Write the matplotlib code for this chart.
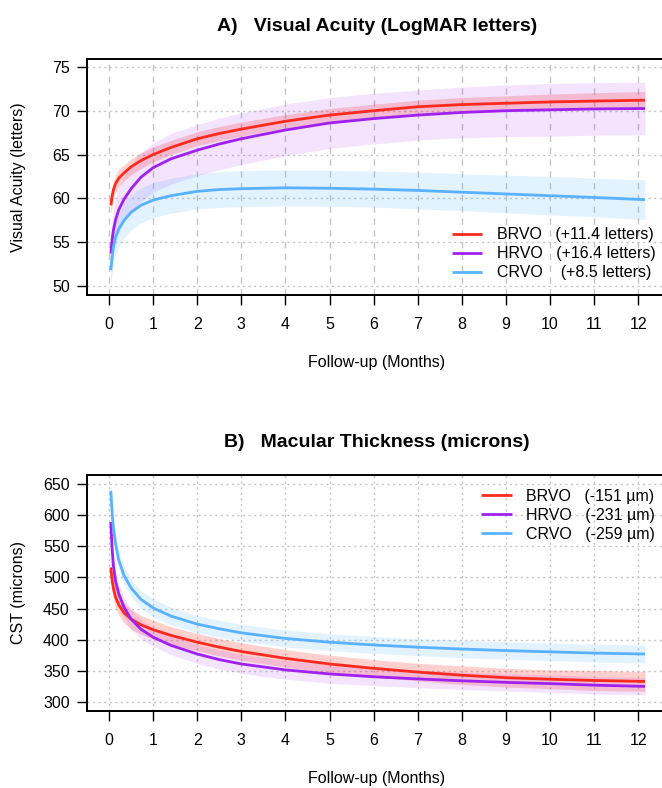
import numpy as np
import matplotlib
matplotlib.use('Agg')
import matplotlib.pyplot as plt

plt.rcParams['font.family'] = ['Liberation Sans', 'DejaVu Sans']

# follow-up months
months = [0.04, 0.07, 0.1, 0.15, 0.22, 0.34, 0.5, 0.72, 1, 1.4, 2, 2.5, 3, 4, 5, 6, 7, 8, 9, 10, 11, 12.15]

# A) visual acuity (letters): fitted mean and CI half width
va_brvo = [59.2, 60.3, 61.0, 61.7, 62.3, 62.9, 63.6, 64.3, 65.0, 65.8, 66.8, 67.4, 67.9, 68.8, 69.5, 70.0, 70.45, 70.7, 70.85, 71.0, 71.1, 71.2]
va_brvo_ci = [1.1, 1.1, 1.0, 1.0, 1.0, 0.9, 0.9, 0.9, 0.85, 0.8, 0.8, 0.8, 0.8, 0.75, 0.75, 0.75, 0.75, 0.8, 0.85, 0.9, 0.95, 1.0]
va_hrvo = [53.7, 55.3, 56.4, 57.6, 58.7, 59.9, 61.1, 62.4, 63.5, 64.5, 65.5, 66.2, 66.8, 67.8, 68.6, 69.1, 69.5, 69.8, 70.0, 70.1, 70.2, 70.25]
va_hrvo_ci = [2.2, 2.3, 2.3, 2.4, 2.5, 2.6, 2.7, 2.8, 2.8, 2.9, 2.9, 2.95, 2.95, 2.95, 2.9, 2.9, 2.85, 2.9, 2.95, 3.0, 3.0, 3.0]
va_crvo = [51.8, 53.4, 54.5, 55.6, 56.5, 57.5, 58.4, 59.2, 59.8, 60.3, 60.8, 61.0, 61.1, 61.2, 61.15, 61.05, 60.9, 60.7, 60.5, 60.3, 60.1, 59.85]
va_crvo_ci = [1.8, 1.9, 1.9, 2.0, 2.0, 2.0, 2.0, 2.0, 2.0, 2.0, 2.0, 2.05, 2.05, 2.05, 2.05, 2.05, 2.1, 2.1, 2.15, 2.2, 2.2, 2.25]

# B) macular thickness / CST (microns)
cst_brvo = [516, 495, 482, 468, 456, 443, 433, 424, 416, 407, 396, 388, 381, 370, 361, 354, 348, 343, 339, 336.5, 334.5, 333]
cst_brvo_ci = [18, 18, 18, 17, 17, 16, 16, 15, 15, 14, 14, 14, 14, 14, 14, 14, 14, 15, 15, 15, 16, 16]
cst_hrvo = [589, 545, 518, 493, 474, 452, 433, 417, 404, 391, 377, 368, 361, 351.5, 345, 340.5, 337, 334, 331.5, 329.5, 327, 325]
cst_hrvo_ci = [16, 16, 16, 16, 16, 16, 16, 15, 15, 15, 15, 15, 15, 15, 15, 14, 14, 14, 14, 14, 14, 14]
cst_crvo = [639, 603, 578, 553, 528, 503, 483, 465, 451, 438, 425, 417.5, 411, 402, 396, 391.5, 388, 385, 382.5, 380.5, 378.5, 377]
cst_crvo_ci = [15, 15, 15, 15, 14, 14, 14, 14, 14, 14, 13.5, 13.5, 13.5, 13.5, 13.5, 13.5, 13.5, 14, 14, 14, 14.5, 14.5]

names = ['BRVO', 'HRVO', 'CRVO']
va_change = ['   (+11.4 letters)', '   (+16.4 letters)', '    (+8.5 letters)']
cst_change = ['   (-151 \u00b5m)', '   (-231 \u00b5m)', '   (-259 \u00b5m)']
colors = ['#FF2A1F', '#A020F0', '#58B2FF']
band_alpha = [0.22, 0.12, 0.17]

fig = plt.figure(figsize=(6.62, 7.88), dpi=100)
ax1 = fig.add_axes([87/662, 1-295/788, 580/662, 236/788])
ax2 = fig.add_axes([87/662, 1-711/788, 580/662, 236/788])

x = np.array(months)


def panel(ax, series, cis, labels, title, ylabel, yticks, ylim, vdash, leg):
    for t in range(13):
        ax.axvline(t, color='#c4c4c4', lw=1.0, ls=(0, (4.5, 4)) if vdash else (0, (1.5, 2.5)), zorder=0)
    for yt in yticks:
        ax.axhline(yt, color='#c4c4c4', lw=1.0, ls=(0, (1.5, 2.5)), zorder=0)
    for i in range(3):
        y = np.array(series[i])
        c = np.array(cis[i])
        ax.fill_between(x, y - c, y + c, color=colors[i], alpha=band_alpha[i], lw=0, zorder=1)
    for i in range(3):
        ax.plot(x, series[i], color=colors[i], lw=2.0, label=names[i] + labels[i], zorder=3,
                solid_capstyle='butt')
    ax.set_xlim(-0.5, 12.65)
    ax.set_ylim(*ylim)
    ax.set_xticks(range(13))
    ax.set_yticks(yticks)
    ax.tick_params(axis='x', length=7.5, width=1.0, pad=8, labelsize=11.5)
    ax.tick_params(axis='y', length=7.5, width=1.0, pad=5, labelsize=11.5)
    for s in ax.spines.values():
        s.set_linewidth(1.4)
    ax.set_title(title, fontsize=14, fontweight='bold', pad=20)
    ax.set_xlabel('Follow-up (Months)', fontsize=11.5, labelpad=17)
    ax.set_ylabel(ylabel, fontsize=11.5)
    ax.yaxis.set_label_coords(-0.105, 0.5)
    ax.legend(loc=leg[0], bbox_to_anchor=leg[1], frameon=False, fontsize=11.5, handlelength=1.9,
              handletextpad=0.9, labelspacing=0.25, borderaxespad=0.0)


panel(ax1, [va_brvo, va_hrvo, va_crvo], [va_brvo_ci, va_hrvo_ci, va_crvo_ci], va_change,
      'A)   Visual Acuity (LogMAR letters)', 'Visual Acuity (letters)',
      [50, 55, 60, 65, 70, 75], (48.97, 75.9), True, ('lower left', (0.618, 0.035)))
panel(ax2, [cst_brvo, cst_hrvo, cst_crvo], [cst_brvo_ci, cst_hrvo_ci, cst_crvo_ci], cst_change,
      'B)   Macular Thickness (microns)', 'CST (microns)',
      [300, 350, 400, 450, 500, 550, 600, 650], (285.5, 664.5), False, ('upper left', (0.669, 0.968)))

fig.savefig('out.png', dpi=100)
